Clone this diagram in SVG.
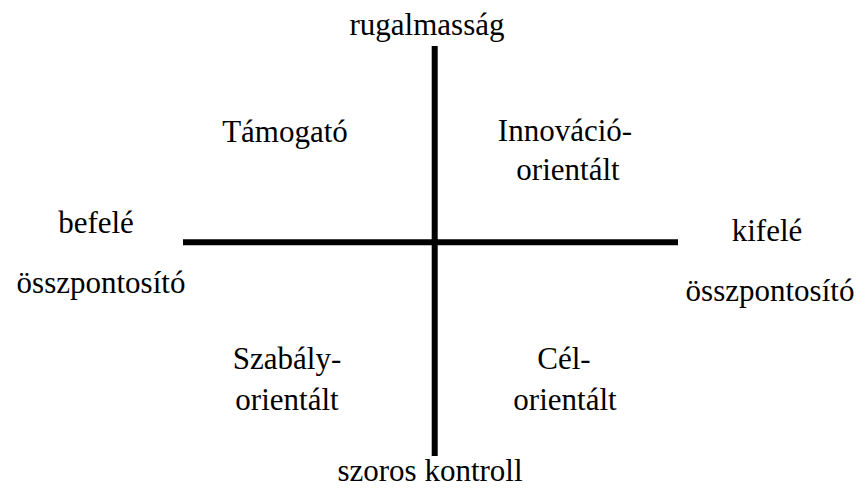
<svg xmlns="http://www.w3.org/2000/svg" width="859" height="490" viewBox="0 0 859 490">
  <style>
    .lbl { font-family: "Liberation Serif", "Times New Roman", serif; font-size: 31px; fill: #000; text-anchor: middle; }
    .axis { stroke: #000; stroke-width: 6; fill: none; }
  </style>
  <rect width="859" height="490" fill="#fff"/>

  <!-- axes -->
  <g id="connectors">
    <line class="axis" x1="183" y1="242.3" x2="678" y2="242.3"/>
    <line class="axis" x1="434.7" y1="46" x2="434.7" y2="456"/>
  </g>

  <!-- axis end labels -->
  <g id="top-label"><text class="lbl" x="427" y="35">rugalmasság</text></g>
  <g id="bottom-label"><text class="lbl" x="430" y="481">szoros kontroll</text></g>
  <g id="left-label">
    <text class="lbl" x="96" y="233">befelé</text>
    <text class="lbl" x="101" y="293">összpontosító</text>
  </g>
  <g id="right-label">
    <text class="lbl" x="767" y="241">kifelé</text>
    <text class="lbl" x="770" y="301">összpontosító</text>
  </g>

  <!-- quadrant labels -->
  <g id="q-tamogato"><text class="lbl" x="285" y="141.7">Támogató</text></g>
  <g id="q-innovacio">
    <text class="lbl" x="565" y="140.7">Innováció-</text>
    <text class="lbl" x="568" y="180">orientált</text>
  </g>
  <g id="q-szabaly">
    <text class="lbl" x="287" y="369">Szabály-</text>
    <text class="lbl" x="287" y="410">orientált</text>
  </g>
  <g id="q-cel">
    <text class="lbl" x="564" y="369">Cél-</text>
    <text class="lbl" x="565" y="410">orientált</text>
  </g>
</svg>
